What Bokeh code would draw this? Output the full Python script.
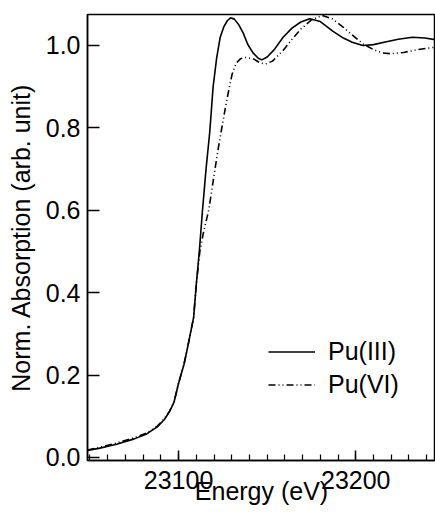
from bokeh.plotting import figure
from bokeh.models import Range1d, FixedTicker, Legend, LegendItem, PrintfTickFormatter
from bokeh.embed import file_html
from bokeh.resources import INLINE

# Pu(III) XANES spectrum
energy_pu3 = [23048.6, 23055, 23065, 23075, 23082, 23088, 23092, 23095, 23097.5, 23100, 23103,
              23105, 23108.5, 23110, 23111.7, 23113.5, 23115.5, 23117.6, 23119.5, 23121.5,
              23123.5, 23125.5, 23127.5, 23129.3, 23131.5, 23134, 23136.5, 23139, 23142,
              23145, 23147, 23150, 23154, 23159, 23164, 23169, 23174, 23180, 23187, 23193,
              23198, 23204, 23210, 23216, 23224, 23232, 23239, 23245]
absorb_pu3 = [0.017, 0.022, 0.032, 0.045, 0.057, 0.074, 0.092, 0.112, 0.135, 0.18, 0.225,
              0.265, 0.34, 0.42, 0.50, 0.60, 0.70, 0.79, 0.90, 0.97,
              1.02, 1.045, 1.06, 1.067, 1.064, 1.05, 1.03, 1.003, 0.982,
              0.969, 0.965, 0.972, 0.99, 1.02, 1.042, 1.057, 1.065, 1.058, 1.035, 1.018,
              1.008, 1.0, 1.002, 1.008, 1.015, 1.02, 1.018, 1.014]

# Pu(VI) XANES spectrum
energy_pu6 = [23048.6, 23055, 23065, 23075, 23082, 23088, 23092, 23095, 23097.5, 23100, 23103,
              23105, 23108.5, 23110, 23112, 23114, 23117, 23119.5, 23122, 23124, 23127.3,
              23130.2, 23132.5, 23135, 23138, 23142, 23146, 23149, 23153, 23159, 23164,
              23169, 23175, 23181, 23187, 23193, 23199, 23204, 23210, 23215, 23220,
              23227, 23235, 23245]
absorb_pu6 = [0.018, 0.024, 0.035, 0.048, 0.059, 0.076, 0.094, 0.113, 0.136, 0.18, 0.225,
              0.265, 0.34, 0.42, 0.50, 0.545, 0.60, 0.67, 0.74, 0.79, 0.87,
              0.93, 0.957, 0.968, 0.971, 0.968, 0.958, 0.955, 0.962, 0.988, 1.015,
              1.04, 1.062, 1.073, 1.064, 1.044, 1.022, 1.004, 0.99, 0.982, 0.98,
              0.983, 0.99, 0.996]

x_major_ticks = [23100, 23200]
x_minor_ticks = [23050, 23060, 23070, 23080, 23090, 23100, 23110, 23120, 23130, 23140,
                 23150, 23160, 23170, 23180, 23190, 23200, 23210, 23220, 23230, 23240]
y_ticks = [0.0, 0.2, 0.4, 0.6, 0.8, 1.0]

FONT = "Liberation Sans"

p = figure(width=435, height=513, output_backend="svg", toolbar_location=None,
           x_range=Range1d(23048.6, 23245), y_range=Range1d(-0.0075, 1.0752),
           min_border_left=87, min_border_right=0, min_border_top=14, min_border_bottom=53)

p.grid.grid_line_color = None
p.outline_line_color = "black"
p.outline_line_width = 1.5
p.background_fill_color = "white"
p.border_fill_color = "white"

l1 = p.line(energy_pu3, absorb_pu3, line_color="black", line_width=1.6)
l2 = p.line(energy_pu6, absorb_pu6, line_color="black", line_width=1.6, line_dash="7 3 1 3 1 3")

xa = p.xaxis[0]
xa.ticker = FixedTicker(ticks=x_major_ticks, minor_ticks=x_minor_ticks)
xa.formatter = PrintfTickFormatter(format="%d")
xa.axis_label = "Energy (eV)"
xa.major_tick_in = 10
xa.major_tick_out = 0
xa.minor_tick_in = 6
xa.minor_tick_out = 0
xa.major_label_standoff = 10
xa.axis_label_standoff = -15

ya = p.yaxis[0]
ya.ticker = FixedTicker(ticks=y_ticks, minor_ticks=[])
ya.formatter = PrintfTickFormatter(format="%.1f")
ya.axis_label = "Norm. Absorption (arb. unit)"
ya.major_tick_in = 12
ya.major_tick_out = 0
ya.minor_tick_line_color = None
ya.major_label_standoff = 7
ya.axis_label_standoff = 8

for ax in (xa, ya):
    ax.axis_line_width = 1.5
    ax.major_tick_line_width = 1.5
    ax.minor_tick_line_width = 1.2
    ax.axis_line_color = "black"
    ax.major_tick_line_color = "black"
    ax.major_label_text_font = FONT
    ax.major_label_text_font_size = "25px"
    ax.major_label_text_color = "black"
    ax.axis_label_text_font = FONT
    ax.axis_label_text_font_size = "25px"
    ax.axis_label_text_font_style = "normal"
    ax.axis_label_text_color = "black"

legend = Legend(items=[LegendItem(label="Pu(III)", renderers=[l1]),
                       LegendItem(label="Pu(VI)", renderers=[l2])],
                location=(181, 59), padding=0, margin=0, spacing=0,
                glyph_width=47, glyph_height=33, label_height=33,
                label_standoff=13, border_line_color=None,
                background_fill_alpha=0,
                label_text_font=FONT, label_text_font_size="25px",
                label_text_color="black")
p.add_layout(legend)

open("out.html", "w").write(file_html(p, INLINE))
